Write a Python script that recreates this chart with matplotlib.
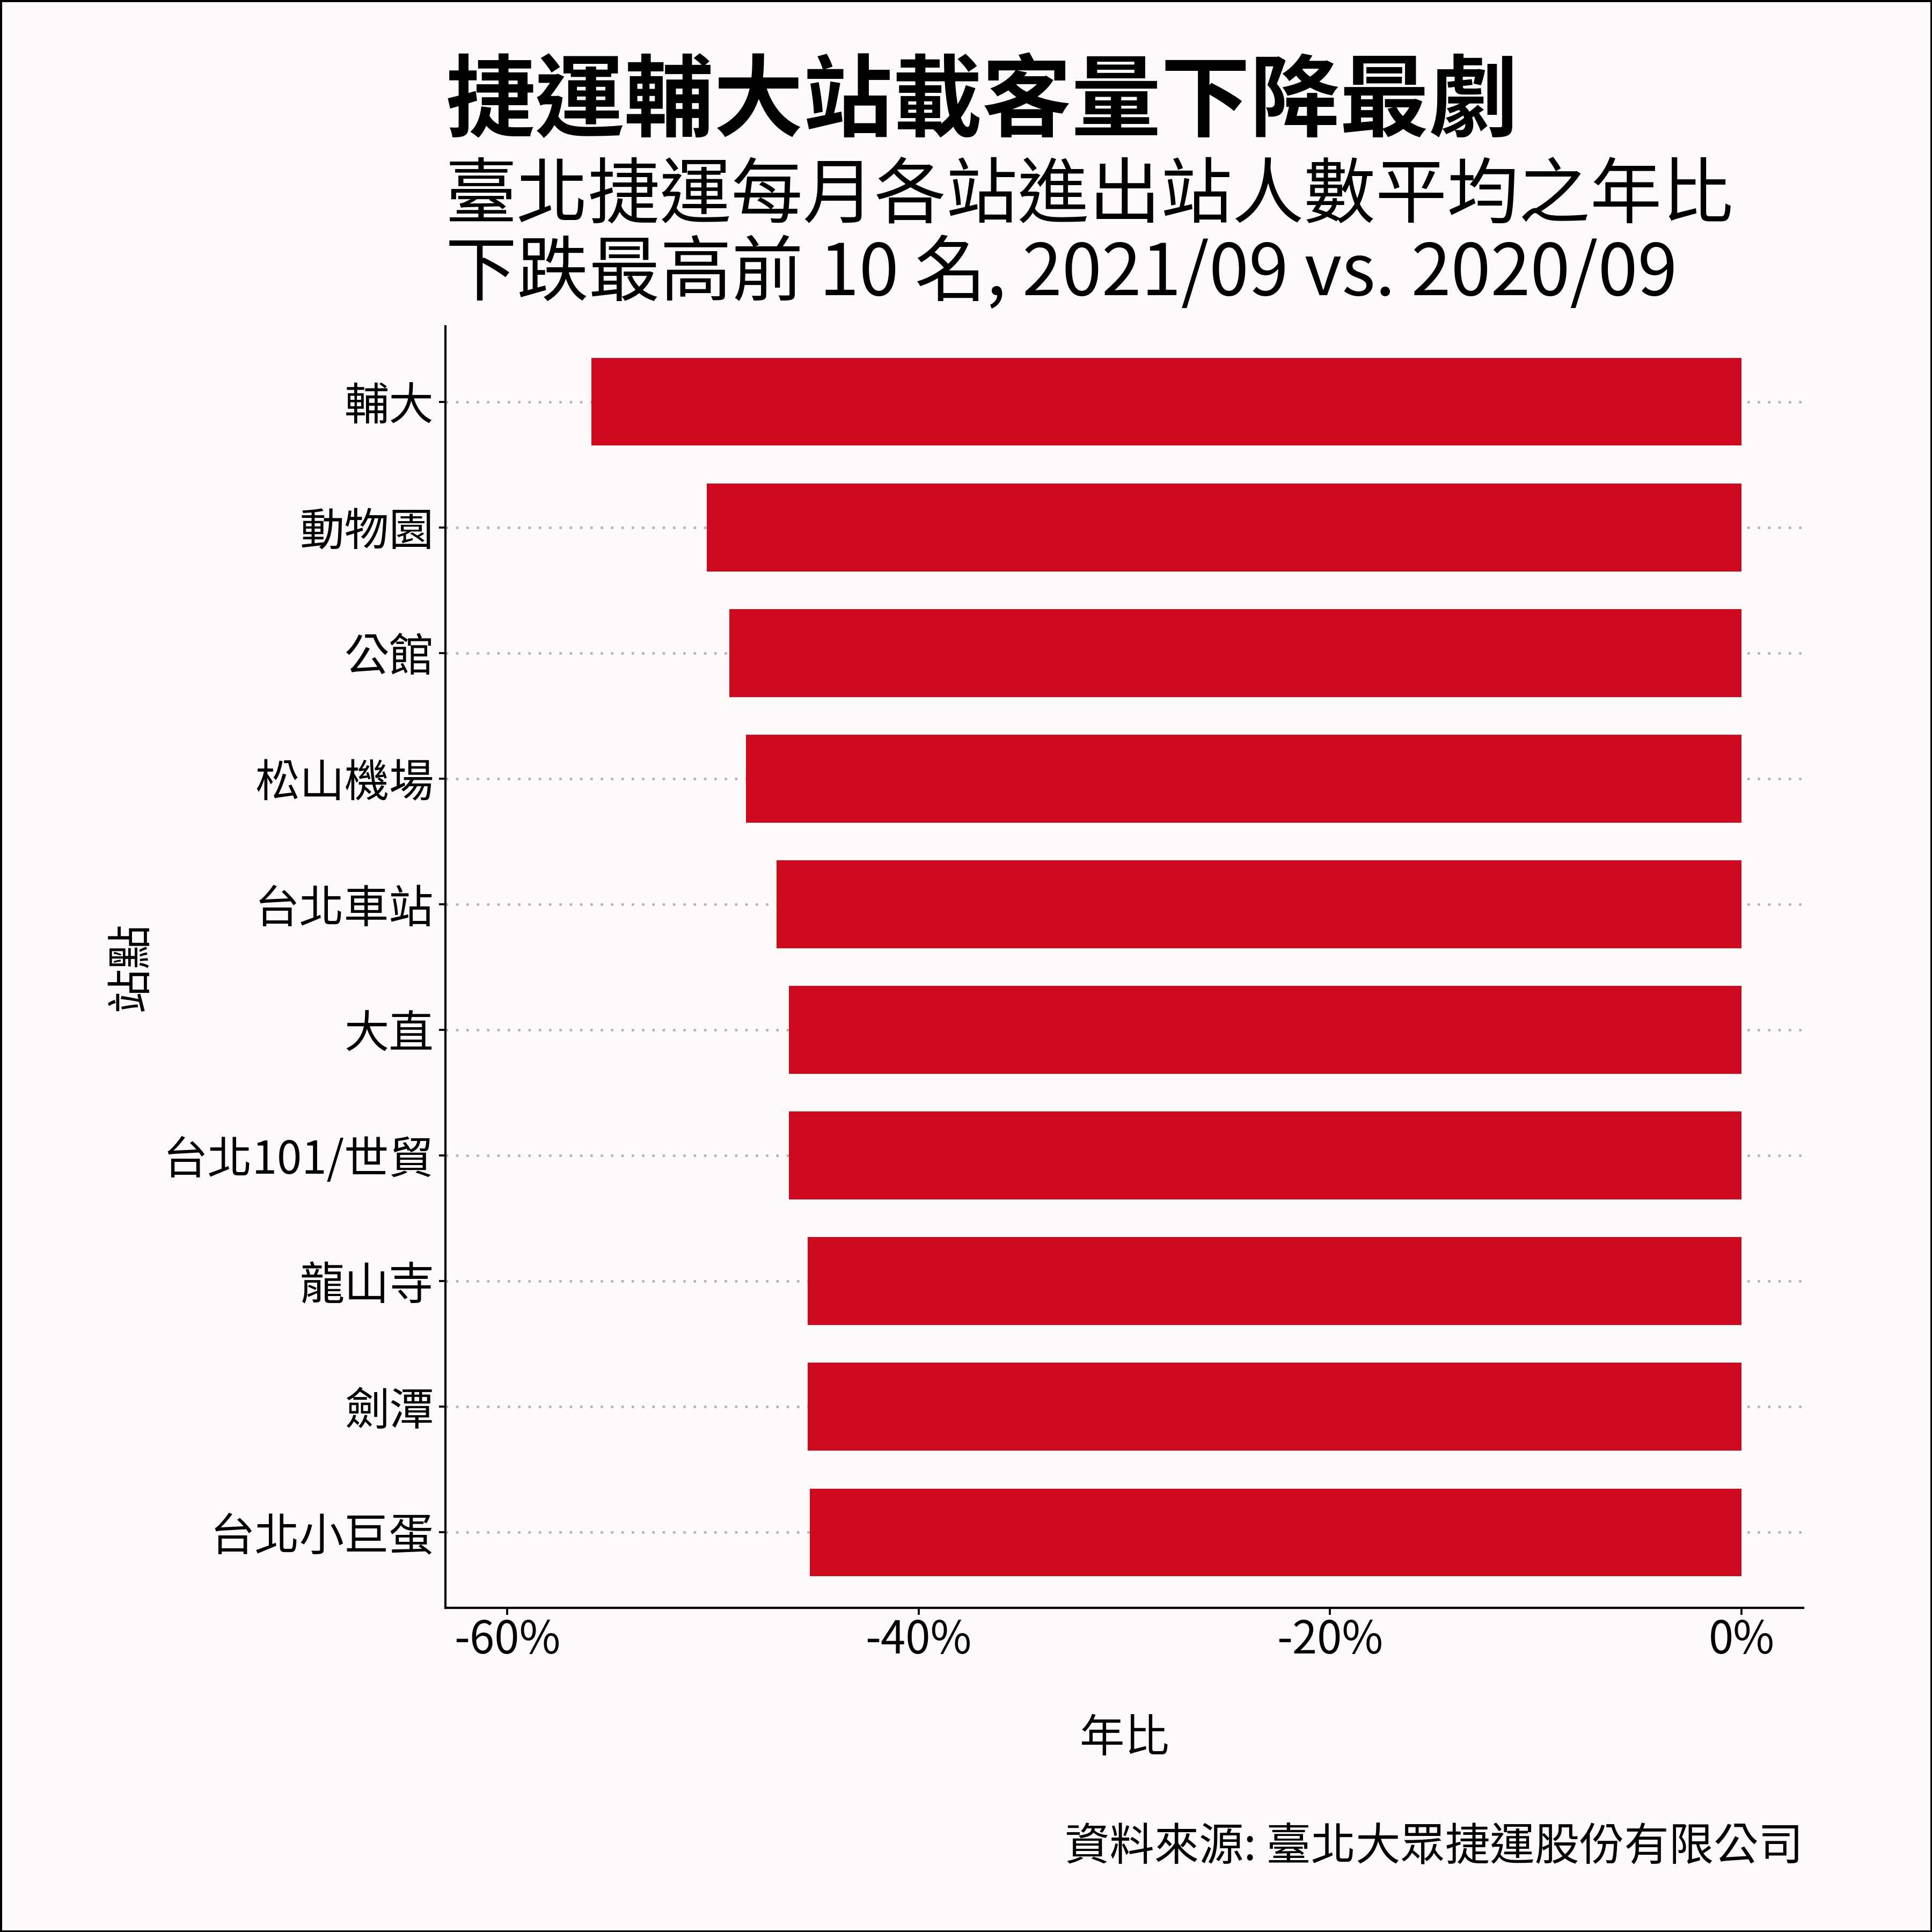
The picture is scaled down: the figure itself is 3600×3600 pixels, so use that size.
import matplotlib
matplotlib.use("Agg")
import matplotlib.pyplot as plt
from matplotlib.ticker import FuncFormatter, FixedLocator
from matplotlib.patches import Rectangle

plt.rcParams['font.family'] = ['Noto Sans CJK TC', 'DejaVu Sans']
plt.rcParams['axes.unicode_minus'] = False

# ---- data ----
stations = ["輔大", "動物園", "公館", "松山機場", "台北車站", "大直",
            "台北101/世貿", "龍山寺", "劍潭", "台北小巨蛋"]
yoy_pct = [-55.9, -50.3, -49.2, -48.4, -46.9, -46.3, -46.3, -45.4, -45.4, -45.3]
x_ticks = [-60, -40, -20, 0]

title = "捷運輔大站載客量下降最劇"
subtitle1 = "臺北捷運每月各站進出站人數平均之年比"
subtitle2 = "下跌最高前 10 名, 2021/09 vs. 2020/09"
x_label = "年比"
y_label = "站點"
caption = "資料來源: 臺北大眾捷運股份有限公司"

BG = "#FFFAFA"
BAR = "#CD0A20"

fig = plt.figure(figsize=(12, 12), dpi=300, facecolor=BG)
ax = fig.add_axes([0.2306, 0.1678, 0.7027, 0.6633])
ax.set_facecolor(BG)

ax.barh(stations, yoy_pct, height=0.7, color=BAR, zorder=2)
ax.set_ylim(len(stations) - 0.4, -0.6)
ax.set_xlim(-63, 3)

ax.xaxis.set_major_locator(FixedLocator(x_ticks))
ax.xaxis.set_major_formatter(FuncFormatter(lambda v, p: f"{v:.0f}%"))

ax.grid(axis='y', color='#b3b3b3', linewidth=1.1, linestyle=(0, (1, 3.2)),
        dash_capstyle='butt', zorder=0)
ax.grid(axis='x', visible=False)
ax.set_axisbelow(True)

for s in ['top', 'right']:
    ax.spines[s].set_visible(False)
for s in ['left', 'bottom']:
    ax.spines[s].set_linewidth(1.0)
    ax.spines[s].set_color('black')

ax.tick_params(axis='both', length=3, width=0.9, color='black',
               labelsize=20, labelcolor='black')
ax.tick_params(axis='y', pad=2.2)
ax.tick_params(axis='x', pad=1.3)

ax.set_xlabel(x_label, fontsize=20, labelpad=23)
ax.set_ylabel(y_label, fontsize=20, labelpad=4)

fig.text(0.2306, 0.933, title, fontsize=40, fontweight='bold',
         ha='left', va='baseline')
fig.text(0.2306, 0.8875, subtitle1, fontsize=32, ha='left', va='baseline')
fig.text(0.2306, 0.8472, subtitle2, fontsize=32, ha='left', va='baseline')
fig.text(0.9333, 0.0375, caption, fontsize=20, ha='right', va='baseline')

fig.patches.append(Rectangle((0.0004, 0.0004), 0.9992, 0.9992, transform=fig.transFigure,
                             fill=False, edgecolor='black', linewidth=1.2))

fig.savefig("out.png", dpi=300, facecolor=BG)
